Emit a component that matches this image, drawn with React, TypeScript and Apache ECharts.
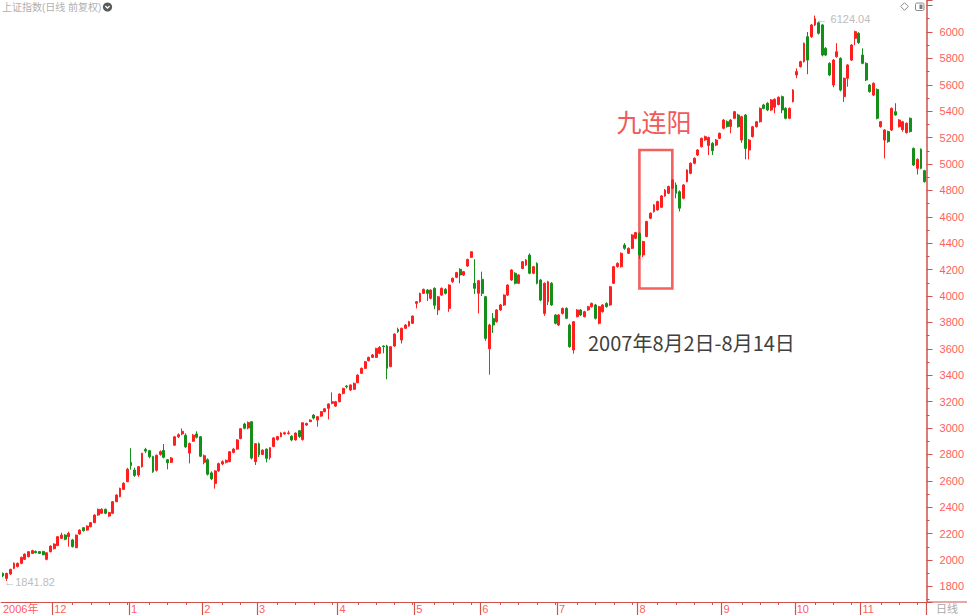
import React, { useEffect, useRef } from "react";
import * as echarts from "echarts";

// ---- categories: trading days, month by month ----
const tradingDays: [string, number[]][] = [
  ["2006-11", [13, 14, 15, 16, 17, 20, 21, 22, 23, 24, 27, 28, 29, 30]],
  ["2006-12", [1, 4, 5, 6, 7, 8, 11, 12, 13, 14, 15, 18, 19, 20, 21, 22, 25, 26, 27, 28, 29]],
  ["2007-01", [4, 5, 8, 9, 10, 11, 12, 15, 16, 17, 18, 19, 22, 23, 24, 25, 26, 29, 30, 31]],
  ["2007-02", [1, 2, 5, 6, 7, 8, 9, 12, 13, 14, 15, 16, 26, 27, 28]],
  ["2007-03", [1, 2, 5, 6, 7, 8, 9, 12, 13, 14, 15, 16, 19, 20, 21, 22, 23, 26, 27, 28, 29, 30]],
  ["2007-04", [2, 3, 4, 5, 6, 9, 10, 11, 12, 13, 16, 17, 18, 19, 20, 23, 24, 25, 26, 27, 30]],
  ["2007-05", [8, 9, 10, 11, 14, 15, 16, 17, 18, 21, 22, 23, 24, 25, 28, 29, 30, 31]],
  ["2007-06", [1, 4, 5, 6, 7, 8, 11, 12, 13, 14, 15, 18, 19, 20, 21, 22, 25, 26, 27, 28, 29]],
  ["2007-07", [2, 3, 4, 5, 6, 9, 10, 11, 12, 13, 16, 17, 18, 19, 20, 23, 24, 25, 26, 27, 30, 31]],
  ["2007-08", [1, 2, 3, 6, 7, 8, 9, 10, 13, 14, 15, 16, 17, 20, 21, 22, 23, 24, 27, 28, 29, 30, 31]],
  ["2007-09", [3, 4, 5, 6, 7, 10, 11, 12, 13, 14, 17, 18, 19, 20, 21, 24, 25, 26, 27, 28]],
  ["2007-10", [8, 9, 10, 11, 12, 15, 16, 17, 18, 19, 22, 23, 24, 25, 26, 29, 30, 31]],
  ["2007-11", [1, 2, 5, 6, 7, 8, 9, 12, 13, 14, 15, 16, 19, 20, 21, 22, 23, 26]],
];

// ---- daily OHLC ----
const opens = [
  // 2006-11
  1899, 1861, 1894, 1937, 1950, 1975, 2005, 2025, 2050, 2065, 2064, 2065, 2005, 2063,
  // 2006-12
  2086, 2109, 2164, 2189, 2177, 2152, 2093, 2197, 2245, 2227, 2252, 2283, 2341, 2354, 2384, 2333, 2354, 2442, 2480, 2535, 2593,
  // 2007-01
  2740, 2682, 2644, 2707, 2838, 2828, 2783, 2680, 2800, 2830, 2760, 2740, 2870, 2933, 2955, 2945, 2810, 2900, 2955, 2934,
  // 2007-02
  2740, 2760, 2660, 2580, 2675, 2728, 2740, 2745, 2815, 2840, 2920, 3030, 3000, 3048, 2745,
  // 2007-03
  2880, 2800, 2840, 2775, 2860, 2912, 2934, 2955, 2958, 2938, 2910, 2980, 2912, 3022, 3048, 3098, 3060, 3090, 3124, 3149, 3187, 3166,
  // 2007-04
  3199, 3262, 3318, 3288, 3293, 3343, 3414, 3452, 3510, 3535, 3535, 3566, 3621, 3621, 3465, 3621, 3747, 3667, 3755, 3773, 3793,
  // 2007-05
  3944, 3957, 4020, 4045, 3982, 4058, 3894, 4007, 4050, 3906, 4108, 4141, 4202, 4159, 4227, 4293, 4096, 4020,
  // 2007-06
  4126, 3995, 3600, 3830, 3805, 3894, 3932, 4007, 4121, 4172, 4096, 4209, 4235, 4310, 4172, 4247, 4121, 3868, 3957, 4096, 3856,
  // 2007-07
  3780, 3868, 3906, 3780, 3591, 3843, 3894, 3843, 3894, 3919, 3932, 3793, 3881, 3944, 3932, 4096, 4222, 4222, 4386, 4323, 4361, 4437,
  // 2007-08
  4475, 4311, 4450, 4589, 4639, 4652, 4672, 4758, 4778, 4816, 4841, 4790, 4740, 4866, 4929, 5005, 5068, 5131, 5182, 5140, 5156, 5143, 5194,
  // 2007-09
  5270, 5320, 5283, 5346, 5371, 5181, 5371, 5106, 5207, 5282, 5320, 5447, 5460, 5409, 5430, 5450, 5510, 5421, 5346, 5472,
  // 2007-10
  5674, 5737, 5775, 5964, 5964, 6053, 6070, 6053, 5876, 5762, 5598, 5813, 5800, 5510, 5649, 5787, 5952, 5990,
  // 2007-11
  5825, 5762, 5598, 5522, 5565, 5282, 5181, 5245, 5257, 5396, 5282, 5260, 5237, 5346, 5118, 4967, 5111, 4949,
];
const closes = [
  1879, 1899, 1929, 1975, 1975, 2020, 2045, 2063, 2071, 2056, 2050, 2040, 2055, 2106,
  2121, 2177, 2189, 2157, 2202, 2101, 2189, 2227, 2222, 2257, 2283, 2341, 2384, 2384, 2354, 2359, 2442, 2492, 2543, 2581, 2688,
  2715, 2641, 2707, 2808, 2825, 2783, 2669, 2794, 2821, 2778, 2737, 2773, 2933, 2949, 2975, 2857, 2882, 2945, 2930, 2786,
  2790, 2650, 2615, 2675, 2730, 2745, 2755, 2820, 2840, 2910, 2995, 2998, 3041, 2772, 2881,
  2797, 2832, 2770, 2850, 2925, 2935, 2962, 2964, 2963, 2910, 2962, 2935, 3040, 3035, 3060, 3075, 3086, 3124, 3146, 3182, 3199, 3199,
  3257, 3300, 3312, 3326, 3338, 3401, 3452, 3502, 3535, 3553, 3603, 3611, 3616, 3452, 3616, 3712, 3730, 3755, 3780, 3805, 3848,
  3957, 4020, 4050, 4020, 4045, 3930, 3994, 4058, 4020, 4083, 4134, 4177, 4159, 4184, 4277, 4335, 4058, 4116,
  4020, 3679, 3780, 3780, 3894, 3932, 4007, 4083, 4197, 4096, 4159, 4260, 4273, 4172, 4222, 4096, 3969, 4096, 4108, 3932, 3793,
  3856, 3906, 3831, 3616, 3805, 3894, 3856, 3881, 3919, 3944, 3831, 3919, 3932, 3919, 4070, 4222, 4247, 4323, 4361, 4361, 4462, 4480,
  4310, 4412, 4564, 4627, 4690, 4715, 4758, 4803, 4829, 4879, 4778, 4665, 4841, 4954, 5005, 5043, 5106, 5194, 5207, 5200, 5100, 5181, 5232,
  5333, 5283, 5333, 5396, 5282, 5358, 5118, 5181, 5282, 5320, 5421, 5421, 5409, 5485, 5490, 5505, 5409, 5346, 5421, 5560,
  5700, 5775, 5914, 5787, 6053, 6100, 5990, 5825, 5825, 5674, 5787, 5850, 5560, 5649, 5750, 5901, 6002, 5919,
  5762, 5636, 5548, 5611, 5346, 5320, 5257, 5169, 5421, 5371, 5333, 5320, 5308, 5245, 4992, 5035, 4967, 4866,
];
const lows = [
  1870, 1841.82, 1888, 1930, 1944, 1968, 2000, 2020, 2045, 2050, 2045, 2036, 1998, 2058,
  2080, 2105, 2160, 2150, 2101, 2095, 2090, 2193, 2215, 2222, 2248, 2280, 2335, 2350, 2348, 2328, 2350, 2438, 2475, 2530, 2590,
  2684, 2630, 2630, 2700, 2810, 2770, 2660, 2670, 2790, 2770, 2687, 2735, 2865, 2925, 2945, 2850, 2732, 2895, 2920, 2780,
  2725, 2640, 2605, 2541, 2668, 2718, 2732, 2740, 2808, 2835, 2915, 2990, 2990, 2761, 2720,
  2780, 2795, 2740, 2760, 2855, 2905, 2930, 2950, 2950, 2900, 2905, 2925, 2905, 3015, 3045, 3065, 3010, 3085, 3120, 3065, 3180, 3160,
  3195, 3255, 3300, 3280, 3290, 3340, 3410, 3448, 3505, 3530, 3530, 3560, 3566, 3369, 3460, 3615, 3720, 3640, 3750, 3768, 3788,
  3906, 3950, 4015, 3962, 3975, 3900, 3856, 4000, 4012, 3880, 4100, 4135, 4096, 4152, 4220, 4288, 4015, 3868,
  4000, 3660, 3404, 3720, 3798, 3888, 3925, 4000, 4115, 4088, 4090, 4203, 4228, 4165, 4165, 4088, 3960, 3850, 3930, 3925, 3785,
  3772, 3860, 3825, 3608, 3563, 3838, 3848, 3838, 3888, 3912, 3822, 3785, 3875, 3912, 3925, 4090, 4215, 4215, 4350, 4318, 4355, 4430,
  4280, 4295, 4445, 4582, 4632, 4646, 4666, 4752, 4772, 4810, 4740, 4640, 4732, 4860, 4922, 4998, 5060, 5125, 5175, 5068, 5068, 5135, 5188,
  5262, 5275, 5232, 5340, 5275, 5160, 5035, 5035, 5200, 5276, 5314, 5414, 5400, 5402, 5384, 5444, 5385, 5338, 5340, 5466,
  5650, 5730, 5768, 5680, 5955, 6045, 5980, 5815, 5818, 5665, 5580, 5805, 5550, 5470, 5585, 5780, 5900, 5910,
  5755, 5628, 5540, 5515, 5338, 5275, 5043, 5160, 5250, 5365, 5276, 5245, 5230, 5238, 4985, 4920, 4960, 4858,
];
const highs = [
  1906, 1903, 1934, 1982, 1980, 2026, 2050, 2068, 2078, 2072, 2068, 2069, 2058, 2110,
  2126, 2180, 2207, 2195, 2215, 2160, 2192, 2232, 2250, 2262, 2288, 2345, 2390, 2392, 2390, 2365, 2445, 2498, 2548, 2590, 2698,
  2847, 2700, 2712, 2812, 2850, 2835, 2790, 2798, 2830, 2879, 2765, 2780, 2940, 2960, 2997, 2960, 2890, 2955, 2975, 2940,
  2800, 2770, 2672, 2680, 2738, 2755, 2762, 2826, 2850, 2915, 3000, 3040, 3050, 3049, 2885,
  2890, 2840, 2845, 2855, 2930, 2940, 2968, 2972, 2980, 2945, 2966, 2985, 3042, 3040, 3066, 3105, 3090, 3128, 3150, 3186, 3270, 3205,
  3262, 3305, 3325, 3330, 3345, 3406, 3458, 3508, 3540, 3560, 3608, 3620, 3626, 3630, 3620, 3716, 3760, 3760, 3786, 3812, 3852,
  3962, 4025, 4056, 4052, 4050, 4065, 4000, 4064, 4060, 4088, 4140, 4183, 4210, 4190, 4282, 4336, 4278, 4122,
  4184, 4000, 3790, 3870, 3900, 3940, 4012, 4088, 4203, 4180, 4165, 4265, 4280, 4323, 4228, 4255, 4128, 4102, 4115, 4105, 3862,
  3862, 3912, 3915, 3790, 3810, 3900, 3900, 3888, 3925, 3950, 3940, 3925, 3938, 3952, 4076, 4228, 4255, 4330, 4400, 4368, 4468, 4486,
  4482, 4418, 4570, 4633, 4696, 4722, 4764, 4810, 4836, 4886, 4860, 4800, 4848, 4960, 5012, 5050, 5112, 5200, 5215, 5207, 5165, 5188, 5238,
  5340, 5330, 5340, 5402, 5380, 5365, 5378, 5188, 5288, 5326, 5428, 5455, 5468, 5492, 5497, 5512, 5518, 5430, 5428, 5566,
  5724, 5782, 5920, 6000, 6060, 6124.04, 6078, 6060, 5885, 5770, 5795, 5915, 5808, 5655, 5756, 5908, 6010, 5998,
  5876, 5770, 5606, 5618, 5572, 5326, 5264, 5252, 5428, 5460, 5340, 5326, 5314, 5352, 5125, 5042, 5118, 4955,
];

// ---- annotation ----
const boxFrom = "2007-08-01";
const boxTo = "2007-08-14";
const boxLow = 4057;
const boxHigh = 5106;
const titleText = "上证指数(日线 前复权)";
const noteTitle = "九连阳";
const noteDate = "2007年8月2日-8月14日";
const yMin = 1682;
const yMax = 6242;
const yLabelTop = 6000;

const dates: string[] = [];
tradingDays.forEach(([ym, days]) =>
  days.forEach((d) => dates.push(`${ym}-${String(d).padStart(2, "0")}`))
);
const monthStart: boolean[] = dates.map(
  (d, i) => i > 0 && d.slice(0, 7) !== dates[i - 1].slice(0, 7)
);
const posInMonth: number[] = [];
dates.forEach((d, i) => {
  posInMonth.push(i === 0 || monthStart[i] ? 0 : posInMonth[i - 1] + 1);
});
const firstMonthLen = tradingDays[0][1].length;
const minorTick: boolean[] = dates.map(
  (d, i) => i >= firstMonthLen && posInMonth[i] > 0 && posInMonth[i] % 5 === 0
);

const UP = "#ff1f1f";
const DOWN = "#14901a";
const AXIS = "#d0504c";
const LABEL = "#ff5e5e";
const FONT = 'Arial, "Liberation Sans", "Noto Sans CJK SC", sans-serif';
const CJK = '"Noto Sans CJK SC", "Microsoft YaHei", sans-serif';

export default function App() {
  const ref = useRef<HTMLDivElement>(null);
  useEffect(() => {
    if (!ref.current) return;
    const chart = echarts.init(ref.current, null, { renderer: "svg" });
    const data = dates.map((_, i) => [opens[i], closes[i], lows[i], highs[i]]);
    let hiIdx = 0;
    let loIdx = 0;
    highs.forEach((h, i) => { if (h > highs[hiIdx]) hiIdx = i; });
    lows.forEach((l, i) => { if (l < lows[loIdx]) loIdx = i; });

    chart.setOption({
      animation: false,
      backgroundColor: "#ffffff",
      textStyle: { fontFamily: FONT },
      grid: { left: 0, right: 40, top: 0, bottom: 13, containLabel: false },
      xAxis: [
        {
          type: "category",
          data: dates,
          boundaryGap: true,
          position: "bottom",
          axisLine: { show: true, lineStyle: { color: AXIS, width: 1.2 } },
          axisTick: {
            show: true,
            interval: (i: number) => monthStart[i],
            length: 13,
            lineStyle: { color: AXIS, width: 1.2 },
          },
          axisLabel: {
            show: true,
            interval: (i: number) => i === 0 || monthStart[i],
            formatter: (v: string, i: number) =>
              i === 0 ? v.slice(0, 4) + "年" : String(parseInt(v.slice(5, 7), 10)),
            align: "left",
            color: LABEL,
            fontSize: 11,
            margin: 1,
            fontFamily: FONT,
          },
          splitLine: { show: false },
        },
        {
          type: "category",
          data: dates,
          boundaryGap: true,
          position: "bottom",
          axisLine: { show: false },
          axisTick: {
            show: true,
            alignWithLabel: true,
            interval: (i: number) => minorTick[i],
            length: 3,
            lineStyle: { color: AXIS, width: 1 },
          },
          axisLabel: { show: false },
          splitLine: { show: false },
        },
      ],
      yAxis: {
        type: "value",
        position: "right",
        min: yMin,
        max: yMax,
        splitNumber: 23,
        minInterval: 200,
        maxInterval: 200,
        axisLine: { show: true, lineStyle: { color: AXIS, width: 1.5 } },
        axisTick: { show: true, length: 6, lineStyle: { color: AXIS, width: 1 } },
        minorTick: { show: true, splitNumber: 2, length: 3, lineStyle: { color: AXIS, width: 1 } },
        axisLabel: {
          color: LABEL,
          fontSize: 11,
          margin: 13,
          showMinLabel: false,
          showMaxLabel: false,
          fontFamily: FONT,
          formatter: (v: number) => (v > yLabelTop ? "" : String(Math.round(v))),
        },
        splitLine: { show: false },
      },
      series: [
        {
          type: "candlestick",
          data,
          barWidth: 2.4,
          itemStyle: {
            color: UP,
            color0: DOWN,
            borderColor: UP,
            borderColor0: DOWN,
            borderWidth: 1,
          },
          markPoint: {
            silent: true,
            symbol: "circle",
            symbolSize: 1,
            itemStyle: { color: "rgba(0,0,0,0)" },
            data: [
              {
                coord: [dates[hiIdx], highs[hiIdx]],
                label: {
                  show: true,
                  position: "right",
                  distance: 1,
                  offset: [0, 3],
                  formatter: "← " + highs[hiIdx].toFixed(2),
                  color: "#bdbdbd",
                  fontSize: 11,
                  fontFamily: FONT,
                },
              },
              {
                coord: [dates[loIdx], lows[loIdx]],
                label: {
                  show: true,
                  position: "right",
                  distance: 0,
                  offset: [-3, 1.5],
                  formatter: "←" + lows[loIdx].toFixed(2),
                  color: "#bdbdbd",
                  fontSize: 11,
                  fontFamily: FONT,
                },
              },
            ],
          },
          markArea: {
            silent: true,
            itemStyle: {
              color: "rgba(0,0,0,0)",
              borderColor: "#f26060",
              borderWidth: 2.6,
            },
            data: [[{ xAxis: boxFrom, yAxis: boxLow }, { xAxis: boxTo, yAxis: boxHigh }]],
          },
        },
      ],
      graphic: [
        { type: "line", shape: { x1: 927, y1: 602, x2: 967, y2: 602 }, style: { stroke: AXIS, lineWidth: 1.2 } },
        {
          type: "text", x: 936, y: 608,
          style: { text: "日线", fill: "#aaaaaa", fontSize: 11, fontFamily: CJK, verticalAlign: "middle" },
        },
        {
          type: "text", x: 2, y: 7,
          style: { text: titleText, fill: "#b0b0b0", fontSize: 10, fontFamily: FONT, verticalAlign: "middle" },
        },
        { type: "circle", shape: { cx: 107.5, cy: 7, r: 4.6 }, style: { fill: "#5a5a5a" } },
        {
          type: "polyline",
          shape: { points: [[105.4, 6], [107.5, 8.1], [109.6, 6]] },
          style: { stroke: "#ffffff", lineWidth: 1.3, fill: "none" },
        },
        {
          type: "polygon",
          shape: { points: [[904.5, 2.7], [908.3, 6.5], [904.5, 10.3], [900.7, 6.5]] },
          style: { stroke: "#8a8a8a", lineWidth: 1, fill: "none" },
        },
        {
          type: "rect",
          shape: { x: 915.5, y: 3, width: 8.5, height: 7.5, r: 1.5 },
          style: { stroke: "#8a8a8a", lineWidth: 1, fill: "#ffffff" },
        },
        { type: "rect", shape: { x: 919.5, y: 4.5, width: 3, height: 4.5 }, style: { fill: "#7a7a7a" } },
        {
          type: "text", x: 654, y: 121,
          style: {
            text: noteTitle, fill: "#f05a5a", fontSize: 25, fontFamily: CJK,
            align: "center", verticalAlign: "middle",
          },
        },
        {
          type: "text", x: 588, y: 342,
          style: {
            text: noteDate, fill: "#404040", fontSize: 20, fontFamily: CJK,
            verticalAlign: "middle",
          },
        },
      ],
    });
    return () => chart.dispose();
  }, []);
  return (
    <div
      ref={ref}
      style={{ position: "absolute", left: 0, top: 0, width: 967, height: 615 }}
    />
  );
}
